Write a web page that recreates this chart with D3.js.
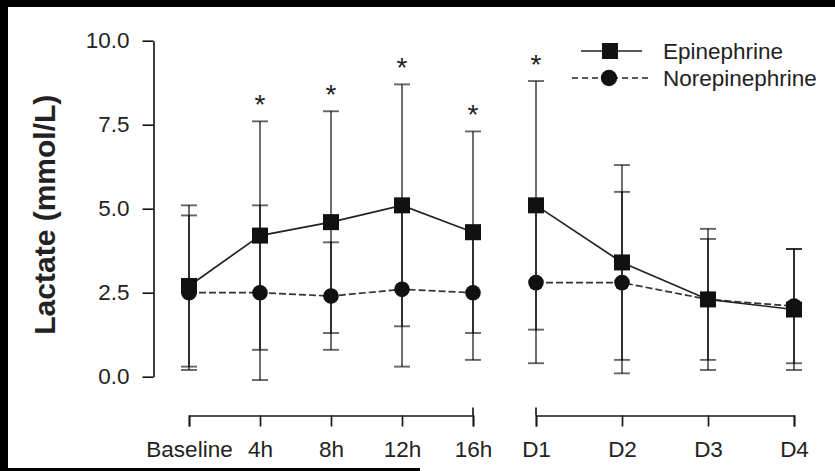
<!DOCTYPE html>
<html>
<head>
<meta charset="utf-8">
<script src="https://cdn.jsdelivr.net/npm/d3@7"></script>
<style>
  body { margin: 0; background: #fff; }
  svg { display: block; }
  text { font-family: "Liberation Sans", Arial, Helvetica, sans-serif; }
</style>
</head>
<body>
<script>
// Time points: first ICU day in hours, then days 1-4
const hourLabels = ["Baseline", "4h", "8h", "12h", "16h"];
const dayLabels = ["D1", "D2", "D3", "D4"];

// Lactate (mmol/L), mean and SD per time point
const epiMean = [2.7, 4.2, 4.6, 5.1, 4.3, 5.1, 3.4, 2.3, 2.0];
const epiSD   = [2.4, 3.4, 3.3, 3.6, 3.0, 3.7, 2.9, 2.1, 1.8];
const norMean = [2.5, 2.5, 2.4, 2.6, 2.5, 2.8, 2.8, 2.3, 2.1];
const norSD   = [2.3, 2.6, 1.6, 2.3, 2.0, 2.4, 2.7, 1.8, 1.7];

// Time points with a significant difference between groups
const significant = ["4h", "8h", "12h", "16h", "D1"];

const yTicks = [0, 2.5, 5, 7.5, 10];
const seriesNames = ["Epinephrine", "Norepinephrine"];
const yTitle = "Lactate (mmol/L)";

const W = 835, H = 471;
const timepoints = hourLabels.concat(dayLabels);
const FS = 22.5;

const svg = d3.select("body").append("svg")
  .attr("width", W).attr("height", H);

svg.append("rect").attr("width", W).attr("height", H).attr("fill", "#fff");
// dark frame edges
svg.append("rect").attr("x", 0).attr("y", 0).attr("width", W).attr("height", 7).attr("fill", "#000");
svg.append("rect").attr("x", 0).attr("y", 0).attr("width", 8).attr("height", H).attr("fill", "#000");
svg.append("rect").attr("x", 0).attr("y", 468).attr("width", 420).attr("height", 3).attr("fill", "#000");

const y = d3.scaleLinear().domain([0, 10]).range([376.7, 40.7]);
const xHours = d3.scalePoint().domain(hourLabels).range([189, 473]);
const xDays = d3.scalePoint().domain(dayLabels).range([536, 794]);
const x = t => hourLabels.includes(t) ? xHours(t) : xDays(t);

const rows = (mean, sd) => timepoints.map((t, i) => ({
  t, m: mean[i], lo: mean[i] - sd[i], hi: mean[i] + sd[i]
}));
const epi = rows(epiMean, epiSD);
const nor = rows(norMean, norSD);

// ---- Y axis ----
const yAxis = d3.axisLeft(y)
  .tickValues(yTicks)
  .tickFormat(d3.format(".1f"))
  .tickSize(11)
  .tickSizeOuter(0)
  .tickPadding(13);
const gy = svg.append("g").attr("transform", "translate(153.5,0)").call(yAxis);
gy.selectAll("path, line").attr("stroke", "#1a1a1a").attr("stroke-width", 1.7);
gy.selectAll("text").attr("font-size", FS).attr("fill", "#222")
  .style("font-family", "'Liberation Sans', Arial, sans-serif");

svg.append("text")
  .attr("transform", `translate(55,${(y(0) + y(10)) / 2 + 6}) rotate(-90)`)
  .attr("text-anchor", "middle")
  .attr("font-size", 30)
  .attr("font-weight", "bold")
  .attr("fill", "#222")
  .text(yTitle);

// ---- X axes: two bracketed segments ----
function drawX(scale, innerEnd) {
  const ax = d3.axisBottom(scale).tickSize(11).tickSizeOuter(11).tickPadding(15);
  const g = svg.append("g").attr("transform", "translate(0,415.5)").call(ax);
  g.selectAll("path, line").attr("stroke", "#1a1a1a").attr("stroke-width", 1.7);
  g.selectAll("text").attr("font-size", FS).attr("fill", "#222")
    .style("font-family", "'Liberation Sans', Arial, sans-serif");
  // the end facing the break also rises above the axis line
  g.append("line")
    .attr("x1", scale(innerEnd)).attr("x2", scale(innerEnd))
    .attr("y1", -8).attr("y2", 0)
    .attr("stroke", "#1a1a1a").attr("stroke-width", 1.7);
}
drawX(xHours, hourLabels[hourLabels.length - 1]);
drawX(xDays, dayLabels[0]);

// ---- Error bars ----
const capW = 8;
function errorBars(data, cls) {
  const g = svg.append("g").attr("class", cls)
    .attr("stroke", "#000").attr("stroke-opacity", 0.6).attr("stroke-width", 1.9);
  data.forEach(d => {
    const cx = x(d.t);
    g.append("line").attr("x1", cx).attr("x2", cx).attr("y1", y(d.lo)).attr("y2", y(d.hi));
    [d.lo, d.hi].forEach(v => {
      g.append("line").attr("x1", cx - capW).attr("x2", cx + capW)
        .attr("y1", y(v)).attr("y2", y(v));
    });
  });
}
errorBars(nor, "nor-err");
errorBars(epi, "epi-err");

// ---- Lines (broken between 16h and D1) ----
const line = d3.line().x(d => x(d.t)).y(d => y(d.m));
const segments = data => [
  data.filter(d => hourLabels.includes(d.t)),
  data.filter(d => dayLabels.includes(d.t))
];
segments(nor).forEach(seg => {
  svg.append("path").datum(seg).attr("d", line)
    .attr("fill", "none").attr("stroke", "#333").attr("stroke-width", 1.7)
    .attr("stroke-dasharray", "7,3");
});
segments(epi).forEach(seg => {
  svg.append("path").datum(seg).attr("d", line)
    .attr("fill", "none").attr("stroke", "#222").attr("stroke-width", 1.7);
});

// ---- Markers ----
const sq = 16;
svg.append("g").selectAll("rect").data(epi).join("rect")
  .attr("x", d => x(d.t) - sq / 2).attr("y", d => y(d.m) - sq / 2)
  .attr("width", sq).attr("height", sq).attr("fill", "#111");
svg.append("g").selectAll("circle").data(nor).join("circle")
  .attr("cx", d => x(d.t)).attr("cy", d => y(d.m)).attr("r", 7.8).attr("fill", "#111");

// ---- Significance asterisks ----
svg.append("g").selectAll("text").data(epi.filter(d => significant.includes(d.t))).join("text")
  .attr("x", d => x(d.t)).attr("y", d => y(d.hi) - 7)
  .attr("text-anchor", "middle")
  .attr("font-size", 28)
  .attr("fill", "#222")
  .text("*");

// ---- Legend ----
const lg = svg.append("g");
const legendRows = [
  { name: seriesNames[0], y: 51, dash: null, x1: 581, x2: 642 },
  { name: seriesNames[1], y: 78, dash: "6,4", x1: 572, x2: 648 }
];
legendRows.forEach((r, i) => {
  lg.append("line").attr("x1", r.x1).attr("x2", r.x2).attr("y1", r.y).attr("y2", r.y)
    .attr("stroke", "#222").attr("stroke-width", 1.7)
    .attr("stroke-dasharray", r.dash);
  if (i === 0) {
    lg.append("rect").attr("x", 610 - sq / 2).attr("y", r.y - sq / 2)
      .attr("width", sq).attr("height", sq).attr("fill", "#111");
  } else {
    lg.append("circle").attr("cx", 609).attr("cy", r.y).attr("r", 8.2).attr("fill", "#111");
  }
  lg.append("text").attr("x", 663).attr("y", r.y + 7.5)
    .attr("font-size", FS).attr("fill", "#222").text(r.name);
});
</script>
</body>
</html>
